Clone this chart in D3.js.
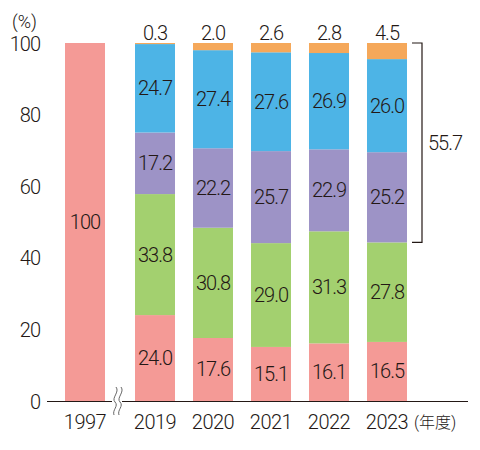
<!DOCTYPE html>
<html>
<head>
  <meta charset="utf-8">
  <title>chart</title>
  <style>
    body { margin: 0; background: #fff; }
    text { font-family: Roboto, "Noto Sans CJK JP", sans-serif; fill: #231815; font-weight: 300; }
  </style>
</head>
<body>
  <script src="https://d3js.org/d3.v7.min.js"></script>
  <script>
    var years = ['1997', '2019', '2020', '2021', '2022', '2023'];
    var seriesNames = ['s1', 's2', 's3', 's4', 's5'];
    var colors = ['#F49A96', '#A3D06F', '#9D93C6', '#4DB4E6', '#F5A85A'];
    // 1997 is a single 100 bar
    var s1 = [100, 24.0, 17.6, 15.1, 16.1, 16.5];
    var s2 = [0, 33.8, 30.8, 29.0, 31.3, 27.8];
    var s3 = [0, 17.2, 22.2, 25.7, 22.9, 25.2];
    var s4 = [0, 24.7, 27.4, 27.6, 26.9, 26.0];
    var s5 = [0, 0.3, 2.0, 2.6, 2.8, 4.5];
    var yTicks = [0, 20, 40, 60, 80, 100];
    var bracketValue = '55.7';

    var width = 480, height = 450;
    var svg = d3.select('body').append('svg')
      .attr('width', width).attr('height', height);

    var y = d3.scaleLinear().domain([0, 100]).range([401, 43]);
    // bar x positions: 1997 then a gap, then evenly spaced
    var x = d3.scalePoint().domain(years.slice(1)).range([155, 387]);
    function cx(yr) { return yr === '1997' ? 85 : x(yr); }
    var bw = 40;

    var rows = years.map(function(yr, i) {
      return { year: yr, s1: s1[i], s2: s2[i], s3: s3[i], s4: s4[i], s5: s5[i] };
    });
    var stack = d3.stack().keys(seriesNames)(rows);

    stack.forEach(function(layer, k) {
      svg.append('g').selectAll('rect').data(layer.filter(function(d) { return d[1] > d[0]; }))
        .enter().append('rect')
        .attr('x', function(d) { return cx(d.data.year) - bw / 2; })
        .attr('y', function(d) { return y(d[1]); })
        .attr('width', bw)
        .attr('height', function(d) { return y(d[0]) - y(d[1]); })
        .style('fill', colors[k]);
    });

    // value labels
    stack.forEach(function(layer, k) {
      svg.append('g').selectAll('text').data(layer.filter(function(d) { return d[1] > d[0]; }))
        .enter().append('text')
        .attr('x', function(d) { return cx(d.data.year); })
        .attr('y', function(d) {
          if (k === 4) return y(d[1]) - 3;
          return (y(d[0]) + y(d[1])) / 2 + 7;
        })
        .attr('text-anchor', 'middle')
        .style('font-size', '20px')
        .style('letter-spacing', '-1px')
        .text(function(d) {
          var v = d[1] - d[0];
          return d.data.year === '1997' ? '100' : v.toFixed(1);
        });
    });

    // axis
    var axis = svg.append('g').attr('transform', 'translate(40,0)')
      .call(d3.axisLeft(y).tickValues(yTicks).tickSize(0).tickPadding(0));
    axis.select('.domain').remove();
    axis.selectAll('text').style('font-size', '20px').style('letter-spacing', '-1px')
      .style('font-family', 'Roboto, sans-serif').style('font-weight', 300)
      .attr('fill', '#231815').attr('dy', '0.35em');

    svg.append('line').attr('x1', 47).attr('x2', 468)
      .attr('y1', y(0) + 0.5).attr('y2', y(0) + 0.5)
      .attr('stroke', '#231815').attr('stroke-width', 1.2);

    // break mark
    svg.append('rect').attr('x', 112).attr('y', 390).attr('width', 10).attr('height', 22).attr('fill', '#fff');
    [0, 5].forEach(function(dx) {
      var x0 = 115 + dx;
      svg.append('path')
        .attr('d', 'M' + (x0 + 1) + ',387 C' + (x0 + 5) + ',392 ' + (x0 - 4) + ',398 ' + x0 + ',402 S' + (x0 - 3) + ',410 ' + (x0 - 1) + ',415')
        .attr('fill', 'none').attr('stroke', '#666').attr('stroke-width', 1);
    });

    // x labels
    svg.append('g').selectAll('text').data(years).enter().append('text')
      .attr('x', function(d) { return cx(d); })
      .attr('y', 429)
      .attr('text-anchor', 'middle')
      .style('font-size', '20px')
      .style('letter-spacing', '-0.5px')
      .text(function(d) { return d; });

    svg.append('text').attr('x', 414).attr('y', 428).style('font-size', '16px').text('(年度)');
    svg.append('text').attr('x', 12).attr('y', 28).style('font-size', '18px').text('(%)');

    // bracket for 2023
    var last = rows[rows.length - 1];
    var bTop = y(100), bBot = y(last.s1 + last.s2);
    svg.append('path')
      .attr('d', 'M412,' + bTop + ' H422 V' + bBot + ' H412')
      .attr('fill', 'none').attr('stroke', '#231815').attr('stroke-width', 1.2);
    svg.append('text').attr('x', 428).attr('y', (bTop + bBot) / 2 + 7)
      .style('font-size', '20px').style('letter-spacing', '-1px').text(bracketValue);
  </script>
</body>
</html>
